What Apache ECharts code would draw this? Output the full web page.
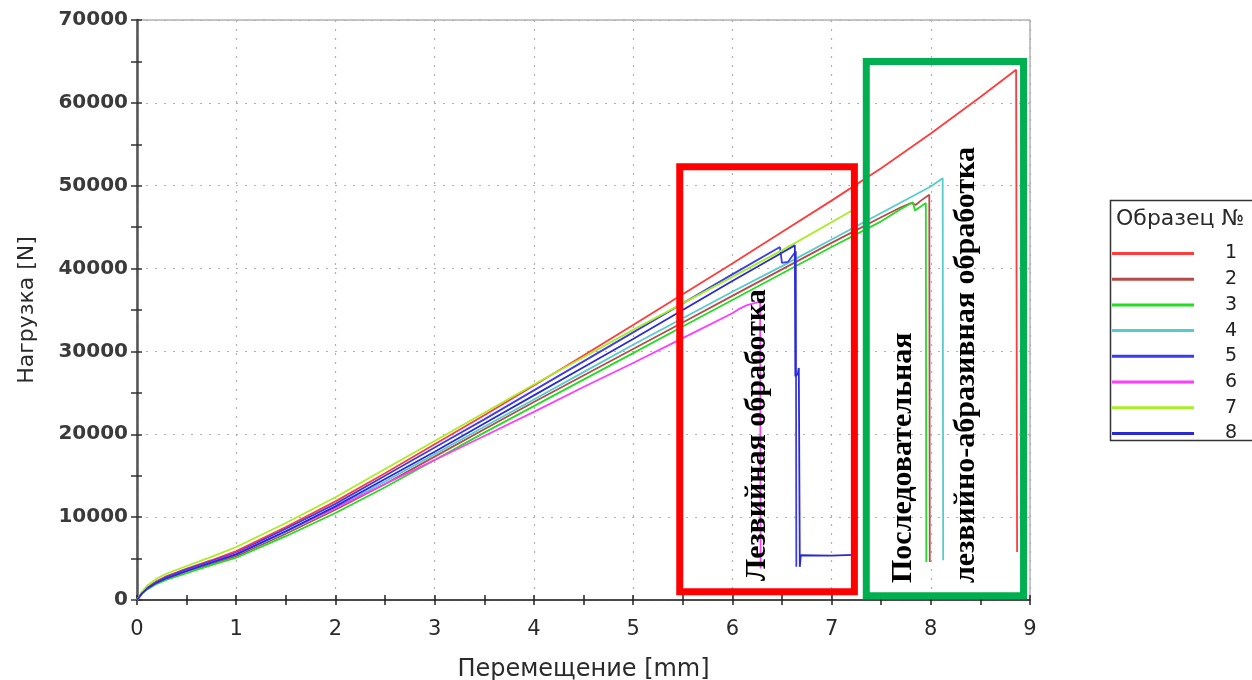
<!DOCTYPE html>
<html>
<head>
<meta charset="utf-8">
<script src="https://cdn.jsdelivr.net/npm/echarts@6/dist/echarts.min.js"></script>
<style>
html,body{margin:0;padding:0;background:#fff;}
#chart{width:1252px;height:680px;}
</style>
</head>
<body>
<div id="chart"></div>
<script>
// ---- data (displacement mm, load N) ----
const disp = [0,0.05,0.1,0.2,0.3,0.5,0.75,1,1.5,2,2.5,3,3.5,4,4.5,5,5.5,6,6.5,7,7.5,8,8.5];

const load1 = [0,900,1500,2300,2900,3800,4800,5900,8800,11900,15300,18800,22300,25900,29500,33200,36900,40600,44400,48200,52100,56300,60700];
const tail1 = [[8.86,64000],[8.87,5800]];

const load2 = [0,800,1350,2050,2600,3450,4400,5300,8000,10900,14000,17300,20600,23900,27100,30300,33500,36700,39900,43100,46200];
const tail2 = [[7.7,47400],[7.8,47900],[7.85,47700],[7.9,48200],[7.985,48900],[7.99,4600]];

const load3 = [0,750,1250,1950,2450,3250,4200,5100,7700,10500,13600,16900,20200,23400,26600,29800,33000,36200,39400,42600,45700];
const tail3 = [[7.7,47200],[7.82,48000],[7.84,47000],[7.9,47500],[7.95,47900],[7.955,4600]];

const load4 = [0,850,1400,2150,2700,3550,4500,5500,8200,11100,14300,17600,20900,24200,27500,30800,34000,37200,40300,43500,46700,49900];
const tail4 = [[8.12,50900],[8.125,4800]];

const load5 = [0,850,1450,2200,2800,3700,4700,5700,8600,11600,15000,18400,21800,25300,28800,32300,35800,39300];
const tail5 = [[6.48,42600],[6.5,40700],[6.56,40800],[6.64,42100],[6.645,4000]];

const load6 = [0,800,1350,2100,2650,3500,4550,5600,8300,11100,14000,16900,19800,22700,25700,28600,31600,34600];
const tail6 = [[6.08,35200],[6.15,35600],[6.28,36000],[6.285,3800]];

const load7 = [0,1000,1700,2600,3200,4100,5200,6400,9300,12400,15800,19200,22600,26000,29300,32600,35800,39000,42200,45600];
const tail7 = [[7.22,47100],[7.225,5000]];

const load8 = [0,800,1350,2100,2650,3500,4500,5500,8300,11300,14600,17900,21300,24700,28100,31500,35000,38500,41900];
const tail8 = [[6.63,42800],[6.635,27000],[6.66,27300],[6.67,28000],[6.675,27800],[6.68,4000],[6.69,5400],[7.0,5350],[7.22,5450]];

const seriesNames = ['1','2','3','4','5','6','7','8'];
const seriesColors = ['#ff3c3c','#b84a4a','#22dd22','#55cccc','#3c3cee','#ff3cff','#a8ee22','#2a2ad4'];

const xTicks = [0,1,2,3,4,5,6,7,8,9];
const yTicks = [0,10000,20000,30000,40000,50000,60000,70000];

// annotation boxes (data coordinates)
const boxRed = [[5.47,1000],[5.47,52300],[7.23,52300],[7.23,1000],[5.47,1000]];
const boxGreen = [[7.35,500],[7.35,65000],[8.935,65000],[8.935,500],[7.35,500]];

const labelBlade = 'Лезвийная обработка';
const labelSeq1 = 'Последовательная';
const labelSeq2 = 'лезвийно-абразивная обработка';
const legendTitle = 'Образец №';
const xName = 'Перемещение [mm]';
const yName = 'Нагрузка [N]';

// ---- build ----
function build(load, tail){
  const out = [];
  for (let i=0;i<load.length;i++) out.push([disp[i], load[i]]);
  return out.concat(tail);
}
const allData = [
  build(load1,tail1), build(load2,tail2), build(load3,tail3), build(load4,tail4),
  build(load5,tail5), build(load6,tail6), build(load7,tail7), build(load8,tail8)
];

const chart = echarts.init(document.getElementById('chart'), null, {renderer:'canvas'});
const FONT = 'DejaVu Sans';

const series = allData.map((d,i)=>({
  name: seriesNames[i],
  type: 'line',
  data: d,
  showSymbol: false,
  symbol: 'none',
  lineStyle: {width: 1.8, color: seriesColors[i]},
  itemStyle: {color: seriesColors[i]},
  z: 3,
  animation: false
}));
series.push({
  name: 'boxRed', type: 'line', data: boxRed, showSymbol:false, symbol:'none',
  lineStyle: {width: 7, color: '#ff0000', cap: 'square', join: 'miter'}, z: 8, animation:false, silent:true
});
series.push({
  name: 'boxGreen', type: 'line', data: boxGreen, showSymbol:false, symbol:'none',
  lineStyle: {width: 7, color: '#00b050', cap: 'square', join: 'miter'}, z: 8, animation:false, silent:true
});

const option = {
  backgroundColor: '#fff',
  animation: false,
  grid: {left: 137, right: 222, top: 20, bottom: 80, show: true, borderColor: '#8a8a8a', borderWidth: 1,
         containLabel: false, outerBoundsMode: 'none'},
  xAxis: [{
    type: 'value', min: 0, max: 9, interval: 1,
    name: xName, nameLocation: 'middle', nameGap: 58,
    nameTextStyle: {fontFamily: FONT, fontSize: 24, color: '#2a2a2a'},
    axisLine: {show: true, onZero:false, lineStyle: {color: '#222', width: 1.5}},
    axisTick: {show: true, length: 5, lineStyle: {color: '#222', width: 1.5}},
    minorTick: {show: true, splitNumber: 2, length: 5, lineStyle: {color: '#222', width: 1.5}},
    axisLabel: {margin: 19, fontFamily: FONT, fontSize: 21, color: '#2a2a2a', formatter: v => xTicks.includes(v) ? String(v) : ''},
    splitLine: {show: true, lineStyle: {color: '#b0b0b0', width: 1.2, type: [2,7]}}
  },{
    type: 'value', min: 0, max: 9, interval: 1, position: 'bottom',
    axisLine: {show:false}, axisLabel: {show:false}, splitLine: {show:false},
    axisTick: {show: true, inside: true, length: 5, lineStyle: {color: '#222', width: 1.5}},
    minorTick: {show: true, splitNumber: 2, length: 5, lineStyle: {color: '#222', width: 1.5}}
  }],
  yAxis: [{
    type: 'value', min: 0, max: 70000, interval: 10000,
    name: yName, nameLocation: 'middle', nameGap: 99, nameRotate: 90,
    nameTextStyle: {fontFamily: FONT, fontSize: 22, color: '#2a2a2a'},
    axisLine: {show: true, onZero:false, lineStyle: {color: '#555', width: 2.5}},
    axisTick: {show: true, length: 6, lineStyle: {color: '#333', width: 1.5}},
    minorTick: {show: true, splitNumber: 2, length: 6, lineStyle: {color: '#333', width: 1.5}},
    axisLabel: {margin: 9, fontFamily: FONT, fontSize: 20, fontWeight: 'bold', color: '#3a3a3a', formatter: v => yTicks.includes(v) ? String(v) : ''},
    splitLine: {show: true, lineStyle: {color: '#b0b0b0', width: 1.2, type: [2,7]}}
  },{
    type: 'value', min: 0, max: 70000, interval: 10000, position: 'left',
    axisLine: {show:false}, axisLabel: {show:false}, splitLine: {show:false},
    axisTick: {show: true, inside: true, length: 5, lineStyle: {color: '#333', width: 1.5}},
    minorTick: {show: true, splitNumber: 2, length: 5, lineStyle: {color: '#333', width: 1.5}}
  }],
  legend: {
    data: seriesNames,
    orient: 'vertical',
    left: 1112, top: 244,
    padding: 0,
    icon: 'rect',
    itemWidth: 82, itemHeight: 3,
    itemGap: 6.7,
    selectedMode: false,
    textStyle: {fontFamily: FONT, fontSize: 19, color: '#222', lineHeight: 18, padding: [0,0,0,26]}
  },
  graphic: [
    {type: 'rect', shape: {x: 1110.5, y: 200.5, width: 160, height: 240}, style: {fill: 'none', stroke: '#333', lineWidth: 1.5}, z: 100},
    {type: 'text', x: 1116, y: 219, style: {text: legendTitle, font: '22px "DejaVu Sans"', fill: '#2a2a2a', textVerticalAlign: 'middle'}, z: 100},
    {type: 'text', x: 757, y: 581, rotation: Math.PI/2, style: {text: labelBlade, font: 'bold 30px "Liberation Serif"', fill: '#000', textAlign: 'left', textVerticalAlign: 'middle'}, z: 100},
    {type: 'text', x: 903, y: 583, rotation: Math.PI/2, style: {text: labelSeq1, font: 'bold 30px "Liberation Serif"', fill: '#000', textAlign: 'left', textVerticalAlign: 'middle'}, z: 100},
    {type: 'text', x: 966, y: 583, rotation: Math.PI/2, style: {text: labelSeq2, font: 'bold 30px "Liberation Serif"', fill: '#000', textAlign: 'left', textVerticalAlign: 'middle'}, z: 100}
  ],
  series: series
};
chart.setOption(option);
</script>
</body>
</html>
